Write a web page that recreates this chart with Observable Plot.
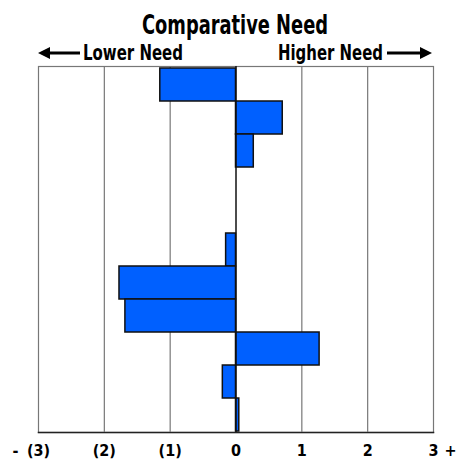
<!DOCTYPE html>
<html>
<head>
<meta charset="utf-8">
<script src="https://cdn.jsdelivr.net/npm/d3@7"></script>
<script src="https://cdn.jsdelivr.net/npm/@observablehq/plot@0.6"></script>
<style>
  body { margin: 0; background: #fff; width: 458px; }
  #wrap { position: relative; width: 458px; height: 460px; }
  .hdr { position: absolute; left: 0; top: 0; pointer-events: none; }
  .hdr text { font-family: "DejaVu Sans Condensed", "DejaVu Sans", sans-serif; font-weight: bold; fill: #000; }
  #chart svg { display: block; }
</style>
</head>
<body>
<div id="wrap">
<div id="chart"></div>
<svg class="hdr" width="458" height="66">
  <text x="142" y="34" font-size="27" textLength="186" lengthAdjust="spacingAndGlyphs">Comparative Need</text>
  <text x="83" y="60" font-size="22" textLength="100" lengthAdjust="spacingAndGlyphs">Lower Need</text>
  <text x="278" y="60" font-size="22" textLength="105" lengthAdjust="spacingAndGlyphs">Higher Need</text>
  <line x1="46" y1="53" x2="80" y2="53" stroke="#000" stroke-width="3"/>
  <path d="M38,53 L50,47 L50,59 Z" fill="#000"/>
  <line x1="387" y1="53" x2="423" y2="53" stroke="#000" stroke-width="3"/>
  <path d="M432,53 L420,47 L420,59 Z" fill="#000"/>
</svg>
</div>
<script>
const categories = ["Row 1","Row 2","Row 3","Row 4","Row 5","Row 6","Row 7","Row 8","Row 9","Row 10","Row 11"];
const values = [-1.15, 0.71, 0.27, 0, 0, -0.15, -1.77, -1.68, 1.27, -0.2, 0.05];
const tickValues = [-3, -2, -1, 0, 1, 2, 3];
const tickLabels = ["(3)", "(2)", "(1)", "0", "1", "2", "3"];
const gridValues = [-2, -1, 1, 2];

const data = categories.map((c, i) => ({category: c, value: values[i]})).filter(d => d.value !== 0);
const font = "'DejaVu Sans Condensed', 'DejaVu Sans', sans-serif";

const chart = Plot.plot({
  width: 458,
  height: 460,
  marginTop: 66,
  marginBottom: 28,
  marginLeft: 38,
  marginRight: 25,
  style: {fontFamily: font, fontWeight: "bold", fontSize: "16px", color: "#000", background: "#fff"},
  x: {domain: [-3, 3]},
  y: {domain: categories, padding: 0, axis: null},
  marks: [
    Plot.frame({stroke: "#777", strokeWidth: 1.2}),
    Plot.frame({anchor: "bottom", stroke: "#222", strokeWidth: 1.5}),
    Plot.ruleX(gridValues, {stroke: "#777", strokeWidth: 1.2}),
    Plot.barX(data, {x: "value", y: "category", fill: "#0060ff", stroke: "#111", strokeWidth: 1.5}),
    Plot.ruleX([0], {stroke: "#111", strokeWidth: 1.5}),
    Plot.axisX({ticks: tickValues, tickFormat: (d) => tickLabels[tickValues.indexOf(d)], tickSize: 0, tickPadding: 12, label: null, fontSize: 16}),
    Plot.text(["-"], {x: () => -3, frameAnchor: "bottom", lineAnchor: "top", dy: 12, dx: -23, text: d => d, fontSize: 16, fontWeight: "bold"}),
    Plot.text(["+"], {x: () => 3, frameAnchor: "bottom", lineAnchor: "top", dy: 12, dx: 17, text: d => d, fontSize: 16, fontWeight: "bold"})
  ]
});
document.getElementById("chart").appendChild(chart);
</script>
</body>
</html>
